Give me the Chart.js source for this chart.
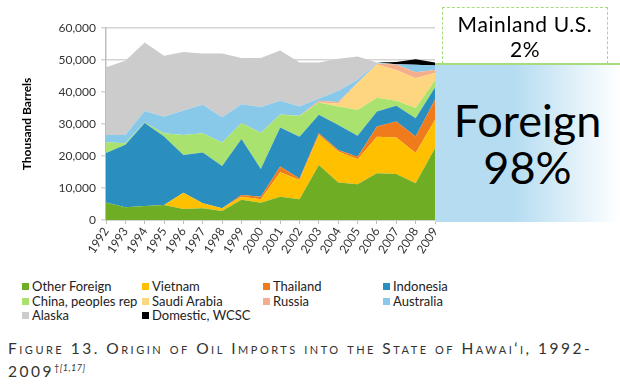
<!DOCTYPE html>
<html>
<head>
<meta charset="utf-8">
<script src="https://cdn.jsdelivr.net/npm/chart.js@4.4.1/dist/chart.umd.min.js"></script>
<style>
  body { margin: 0; background: #fff; font-family: Lato, "Noto Sans", sans-serif; }
  #wrap { position: relative; width: 620px; height: 389px; overflow: hidden; }
  #chart { position: absolute; left: 0; top: 0; }
  #legend { position: absolute; left: 22px; top: 279px; width: 480px; display: grid; grid-template-columns: 120px 121px 120px 120px; row-gap: 0px; font-size: 13px; color: #222; }
  #legend div { height: 14.5px; line-height: 14.5px; white-space: nowrap; }
  #legend span { display: inline-block; width: 7px; height: 7px; margin-right: 3px; vertical-align: 1px; }
  #caption { position: absolute; left: 8px; top: 339px; width: 612px; font-size: 15.5px; line-height: 19px; font-variant: small-caps; letter-spacing: 2.5px; color: #333; white-space: nowrap; }
  #caption sup { font-size: 9px; letter-spacing: 0.5px; }
  #mainland { position: absolute; left: 442px; top: 7px; width: 164px; height: 55px; border: 1px dashed #a9da7c; display: flex; flex-direction: column; justify-content: center; align-items: center; font-size: 21px; line-height: 25px; letter-spacing: 0.6px; color: #000; }
  #foreign { position: absolute; left: 435px; top: 63px; width: 185px; height: 157px; border-top: 2px solid #a9da7c; background: linear-gradient(to right, #b5dcf1 0%, #b5dcf1 42%, #ffffff 100%); display: flex; flex-direction: column; justify-content: center; align-items: center; font-size: 45px; line-height: 47px; color: #000; }
</style>
</head>
<body>
<div id="wrap">
  <canvas id="chart" width="620" height="270"></canvas>
  <div id="mainland"><div>Mainland U.S.</div><div>2%</div></div>
  <div id="foreign"><div>Foreign</div><div>98%</div></div>
  <div id="legend"></div>
  <div id="caption">Figure 13. Origin of Oil Imports into the State of Hawai‘i, 1992-<br>2009<sup>†<i>[1,17]</i></sup></div>
</div>
<script>
// 年
let years = ['1992','1993','1994','1995','1996','1997','1998','1999','2000','2001','2002','2003','2004','2005','2006','2007','2008','2009'];

// 系列（千バレル）
let otherForeign = [5500,4000,4400,4700,3400,3700,2800,6300,5400,7300,6500,17200,11700,11200,14600,14400,11500,22400];
let vietnam      = [0,0,0,0,5100,1500,900,1000,1100,7600,6000,9400,9700,7800,11400,11400,9400,8900];
let thailand     = [0,0,0,0,0,0,0,500,800,1800,500,500,500,800,3200,5000,5200,6300];
let indonesia    = [15400,19500,25900,21400,11800,15900,13200,17500,8600,12200,13000,5800,7800,6500,4700,4900,5700,3800];
let china        = [3400,500,200,1000,6300,6000,7300,5000,11400,4100,6500,3800,5800,8100,4300,1600,3200,2200];
let saudiArabia  = [0,0,0,0,0,0,0,0,0,0,0,0,900,8400,10400,9600,9300,2300];
let russia       = [0,0,0,0,0,0,0,0,0,0,100,600,500,100,200,1700,1900,1000];
let australia    = [2300,2600,3600,5200,7600,8900,7900,5900,8000,4300,2900,700,3400,900,200,100,2300,1400];
let alaska       = [21100,23200,21400,19000,18300,16000,19900,14400,15300,15700,13700,11200,10100,7300,200,0,0,0];
let domesticWCSC = [0,0,0,0,0,0,0,0,0,0,0,0,0,0,0,700,1700,900];

let yTicks = [0,10000,20000,30000,40000,50000,60000];

let names  = ['Other Foreign','Vietnam','Thailand','Indonesia','China, peoples rep','Saudi Arabia','Russia','Australia','Alaska','Domestic, WCSC'];
let series = [otherForeign, vietnam, thailand, indonesia, china, saudiArabia, russia, australia, alaska, domesticWCSC];
let colors = ['#6fad25','#ffc000','#ef7b1c','#2a8fbf','#aae26f','#fdd67f','#f5ae8b','#88c9ea','#cccccc','#000000'];

// データセット
let datasets = series.map(function (d, i) {
  return {
    label: names[i],
    data: d,
    backgroundColor: colors[i],
    borderColor: colors[i],
    borderWidth: 0,
    pointRadius: 0,
    tension: 0,
    fill: i === 0 ? 'origin' : '-1'
  };
});

let ctx = document.getElementById('chart');
let chart = new Chart(ctx, {
  type: 'line',
  data: { labels: years, datasets: datasets },
  options: {
    responsive: false,
    animation: false,
    layout: { padding: { left: 0, right: 185, top: 28, bottom: 0 } },
    plugins: { legend: { display: false }, tooltip: { enabled: false } },
    scales: {
      x: {
        grid: { drawOnChartArea: false, color: '#bdbdbd', tickLength: 4 },
        border: { color: '#bdbdbd', width: 1.5 },
        ticks: { color: '#333', font: { family: 'Lato', size: 12 }, autoSkip: false, minRotation: 57, maxRotation: 57, padding: 1 },
        afterFit: function (s) { s.height = 50; }
      },
      y: {
        stacked: true,
        min: 0,
        max: 60000,
        afterBuildTicks: function (s) { s.ticks = yTicks.map(function (v) { return { value: v }; }); },
        grid: { color: '#d4d4d4', lineWidth: 1.5, tickLength: 5 },
        border: { color: '#bdbdbd', width: 1.5 },
        ticks: {
          color: '#333',
          font: { family: 'Lato', size: 12 },
          padding: 5,
          callback: function (v) { return v.toLocaleString('en-US'); }
        },
        title: { display: true, text: 'Thousand Barrels', color: '#000', font: { family: 'Lato', size: 12, weight: 'bold' }, padding: { top: 20, bottom: 0 } },
        afterFit: function (s) { s.width = 106; }
      }
    }
  }
});

// 凡例
let legend = document.getElementById('legend');
names.forEach(function (n, i) {
  let item = document.createElement('div');
  let box = document.createElement('span');
  box.style.background = colors[i];
  item.appendChild(box);
  item.appendChild(document.createTextNode(n));
  legend.appendChild(item);
});
</script>
</body>
</html>
